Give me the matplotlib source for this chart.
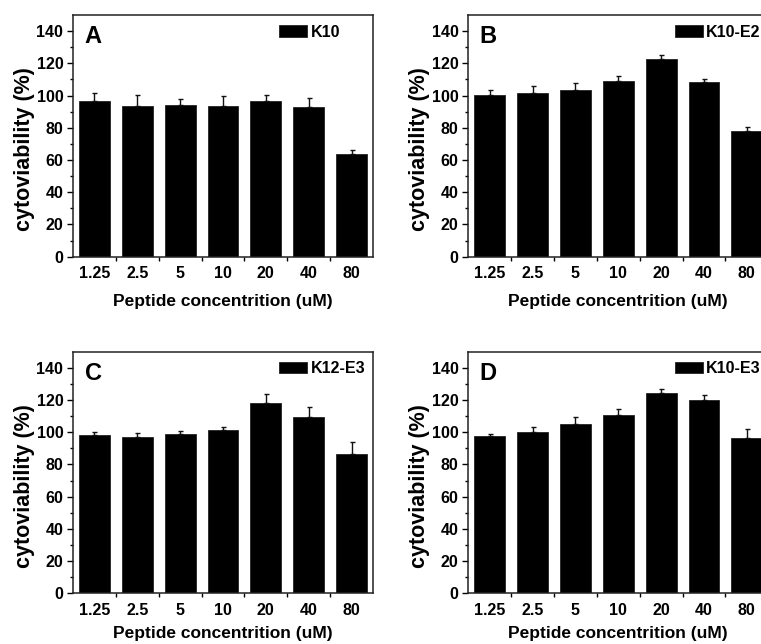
import matplotlib
matplotlib.use("Agg")
import matplotlib.pyplot as plt
import numpy as np

plt.rcParams['font.family'] = ['Liberation Sans', 'DejaVu Sans']
plt.rcParams['font.weight'] = 'bold'

categories = ["1.25", "2.5", "5", "10", "20", "40", "80"]

k10_vals = [96.5, 93.4, 94.0, 93.4, 96.5, 93.0, 63.9]
k10_err = [4.9, 7.2, 4.1, 6.4, 3.7, 5.3, 2.1]

k10e2_vals = [100.2, 101.8, 103.2, 109.1, 122.8, 108.7, 77.8]
k10e2_err = [3.5, 4.4, 4.3, 3.1, 2.4, 1.8, 2.7]

k12e3_vals = [98.3, 97.3, 98.7, 101.6, 118.0, 109.5, 86.3]
k12e3_err = [2.1, 2.1, 2.1, 1.5, 5.6, 6.0, 7.9]

k10e3_vals = [97.9, 100.0, 105.0, 110.9, 124.4, 120.2, 96.3]
k10e3_err = [0.8, 3.5, 4.5, 3.8, 2.3, 2.8, 5.6]

panels = [
    ("A", "K10", k10_vals, k10_err),
    ("B", "K10-E2", k10e2_vals, k10e2_err),
    ("C", "K12-E3", k12e3_vals, k12e3_err),
    ("D", "K10-E3", k10e3_vals, k10e3_err),
]

W, H = 761, 644
fig = plt.figure(figsize=(W / 100, H / 100), dpi=100)

# axes boxes in pixels: (left, top)
boxes = [(73, 15), (468.3, 15), (73, 351.7), (468.3, 351.7)]
aw, ah = 300, 241.7

x = np.arange(len(categories))

for i, ((letter, name, vals, errs), (lx, ty)) in enumerate(zip(panels, boxes)):
    ax = fig.add_axes([lx / W, 1 - (ty + ah) / H, aw / W, ah / H])
    ax.bar(x, vals, width=0.72, color='black', edgecolor='#222222',
           linewidth=0.6, label=name, zorder=2)
    ax.errorbar(x, vals, yerr=[np.zeros(len(errs)), errs], fmt='none',
                ecolor='#111111', elinewidth=1.0, capsize=1.8, capthick=1.0,
                zorder=3)
    ax.set_xlim(-0.5, 6.5)
    ax.set_ylim(0, 150)
    ax.set_yticks(np.arange(0, 141, 20))
    ax.set_yticks(np.arange(10, 150, 20), minor=True)
    ax.set_xticks(x)
    ax.set_xticklabels(categories)
    ax.set_xticks(np.arange(0.5, 6.0, 1.0), minor=True)
    ax.tick_params(axis='y', which='major', direction='out', length=4.5,
                   width=1, labelsize=11.5, pad=2.5)
    ax.tick_params(axis='y', which='minor', direction='out', length=2.5, width=1)
    ax.tick_params(axis='x', which='major', length=0, labelsize=11.5, pad=7)
    ax.tick_params(axis='x', which='minor', direction='out', length=3, width=1)
    for lab in ax.get_xticklabels() + ax.get_yticklabels():
        lab.set_fontweight('bold')
    for sp in ax.spines.values():
        sp.set_linewidth(1.1)
        sp.set_color('#222222')
    ax.set_xlabel("Peptide concentrition (uM)", fontsize=12.5,
                  fontweight='bold', labelpad=9 if i < 2 else 6)
    ax.set_ylabel("cytoviability (%)", fontsize=15.5, fontweight='bold')
    ax.yaxis.set_label_coords(-0.128, 0.4435)
    ax.text(0.067, 0.91, letter, transform=ax.transAxes, fontsize=17,
            fontweight='bold', ha='center', va='center')
    ax.legend(loc='upper left', bbox_to_anchor=(0.688, 0.96), frameon=False,
              fontsize=11.5, handlelength=1.75, handleheight=0.72,
              handletextpad=0.2, borderpad=0, borderaxespad=0)

fig.savefig("out.png", dpi=100)
